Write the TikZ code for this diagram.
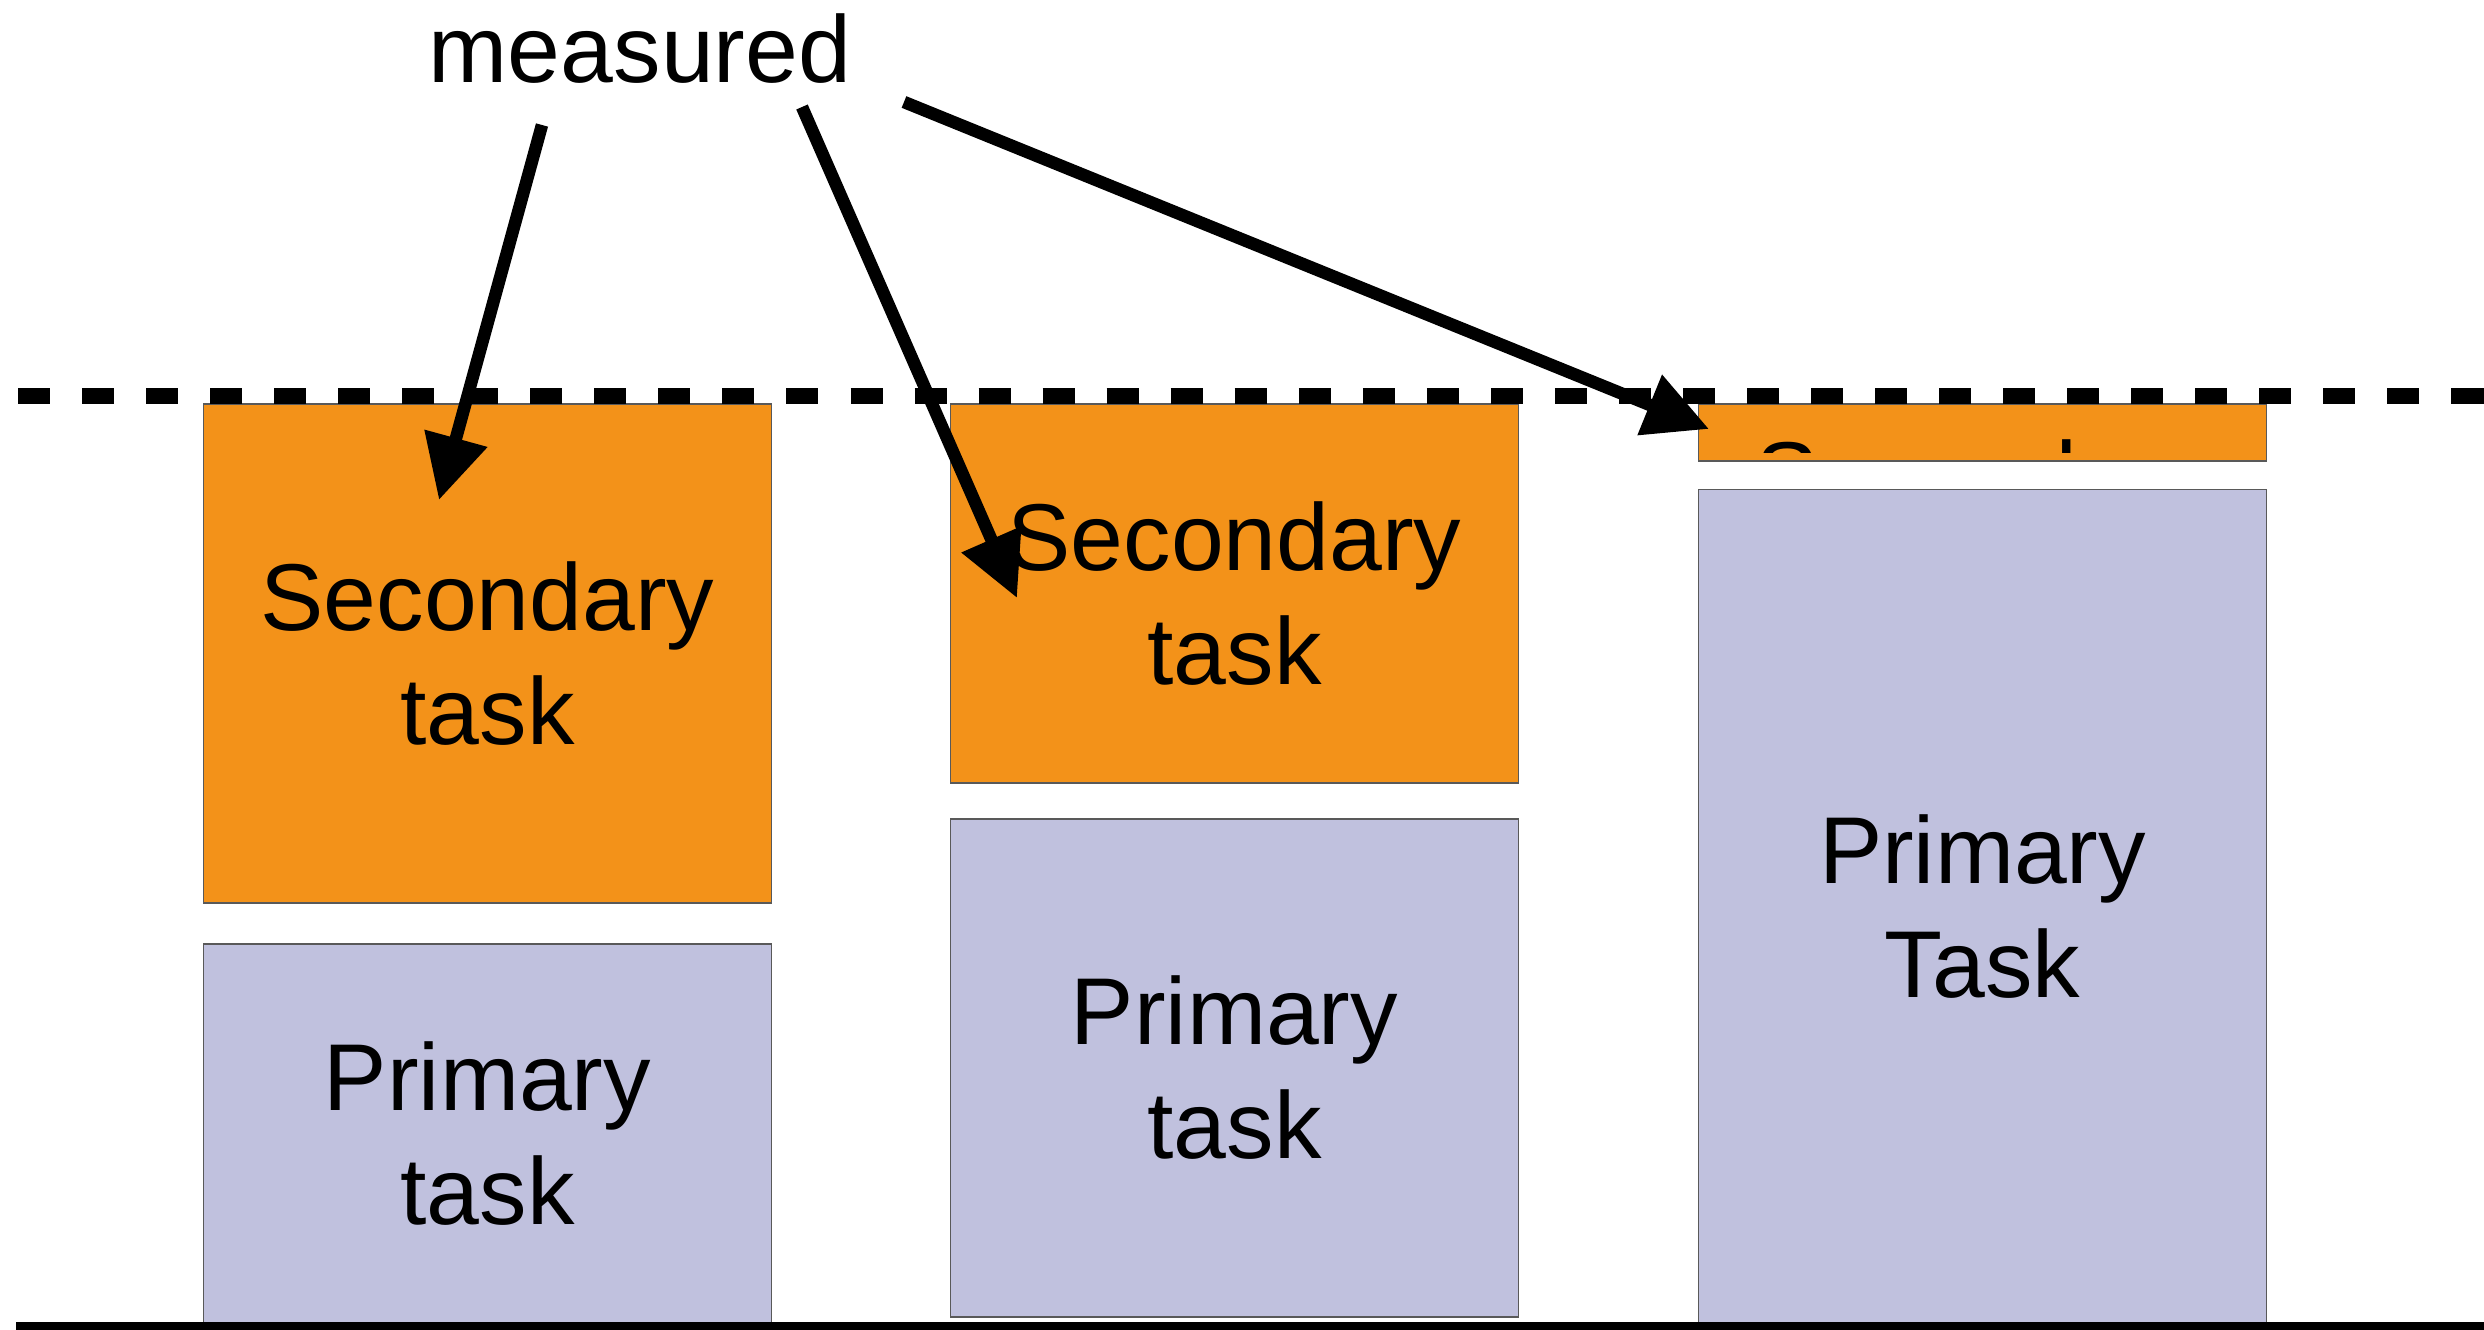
\documentclass[tikz,border=0pt]{standalone}
\usepackage{fontspec}
\setmainfont{Liberation Sans}
\usetikzlibrary{arrows.meta}

\definecolor{taskorange}{RGB}{243,146,25}
\definecolor{tasklilac}{RGB}{192,193,222}

\begin{document}
\begin{tikzpicture}[x=0.01cm, y=-0.01cm,
  font=\fontsize{27}{32.4}\selectfont,
  task/.style={draw=black!65, line width=0.4pt, align=center, inner sep=0pt, minimum width=5.68cm},
  secondary/.style={task, fill=taskorange},
  primary/.style={task, fill=tasklilac},
  pointer/.style={line width=0.125cm, -{Triangle[length=0.64cm, width=0.62cm]}}]
\useasboundingbox (0,0) rectangle (2484,1330);

% three columns: secondary task on top of primary task
\node [secondary, minimum height=4.99cm] (sec1) at (487.5, 653.5) {Secondary\\task};
\node [primary, minimum height=3.79cm] (pri1) at (487.5, 1133.5) {Primary\\task};

\node [secondary, minimum height=3.79cm] (sec2) at (1234.5, 593.5) {Secondary\\task};
\node [primary, minimum height=4.98cm] (pri2) at (1234.5, 1068) {Primary\\task};

\node [secondary, minimum height=0.57cm] (sec3) at (1982.5, 432.5) {};
\begin{scope}
% text does not fit: only its top shows
\clip (sec3.north west) rectangle ([yshift=0.09cm]sec3.south east);
\node [align=center] (sec3text) at (1982.5, 532) {Secondary\\task};
\end{scope}
\node [primary, minimum height=8.335cm] (pri3) at (1982.5, 906.25) {Primary\\Task};

% capacity limit and base line
\draw [line width=0.16cm, dash pattern=on 0.32cm off 0.32cm] (18, 396) -- (2484, 396);
\draw [line width=0.1cm] (16, 1327) -- (2484, 1327);

% label and its pointers
\node [anchor=base] (measured) at (640, 82) {measured};

\coordinate (from1) at (542, 125);
\coordinate (from2) at (802, 107);
\coordinate (from3) at (904, 102);
\coordinate (to1) at (439, 500);
\coordinate (to2) at (1017, 598);
\coordinate (to3) at (1709, 429);

\draw [pointer] (from1) -- (to1);
\draw [pointer] (from2) -- (to2);
\draw [pointer] (from3) -- (to3);
\end{tikzpicture}
\end{document}
